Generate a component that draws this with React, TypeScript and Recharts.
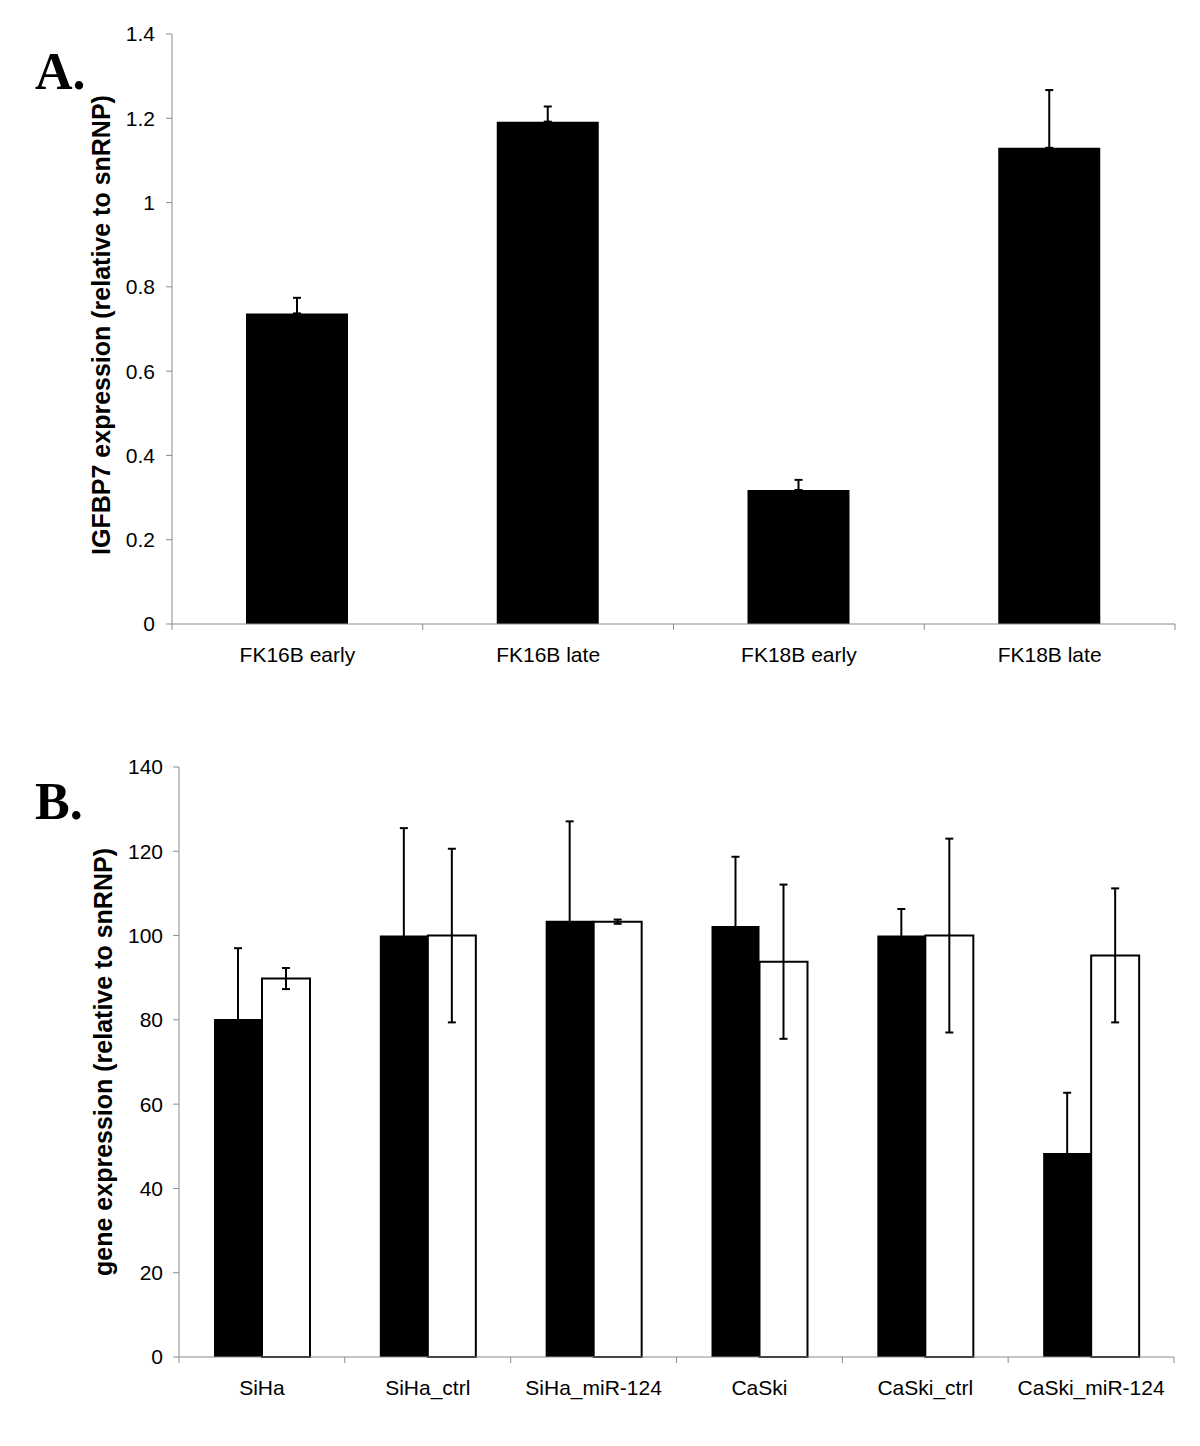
import React from "react";
import { BarChart, Bar, XAxis, YAxis, ErrorBar, Label } from "recharts";

// panel A
const groupsA = ["FK16B early", "FK16B late", "FK18B early", "FK18B late"];
const valuesA = [0.737, 1.192, 0.318, 1.13];
const errorsA = [0.037, 0.036, 0.024, 0.137];
const ticksA = [0, 0.2, 0.4, 0.6, 0.8, 1, 1.2, 1.4];

// panel B
const groupsB = ["SiHa", "SiHa_ctrl", "SiHa_miR-124", "CaSki", "CaSki_ctrl", "CaSki_miR-124"];
const blackB = [80.2, 100, 103.5, 102.3, 100, 48.4];
const blackErrB = [16.8, 25.5, 23.6, 16.4, 6.3, 14.3];
const whiteB = [89.8, 100, 103.3, 93.8, 100, 95.3];
const whiteErrB = [2.5, 20.6, 0.5, 18.3, 23, 15.9];
const ticksB = [0, 20, 40, 60, 80, 100, 120, 140];

const dataA = groupsA.map((name, i) => ({
  name,
  value: valuesA[i],
  err: [0, errorsA[i]],
}));

const dataB = groupsB.map((name, i) => ({
  name,
  black: blackB[i],
  blackErr: blackErrB[i],
  white: whiteB[i],
  whiteErr: whiteErrB[i],
}));

const AXIS = "#8c8c8c";
const TICK_SIZE = 6;
const TICK_MARGIN = 17;
const tickStyle = { fill: "#000", fontSize: 21 };

// category label plus Excel-style tick marks between categories
const CategoryTick = (count: number, plotWidth: number) => (props: any) => {
  const { x, y, payload, index } = props;
  const half = payload?.offset || plotWidth / count / 2;
  const axisY = y - TICK_SIZE - TICK_MARGIN;
  return (
    <g>
      <line x1={x - half} x2={x - half} y1={axisY} y2={axisY + TICK_SIZE} stroke={AXIS} />
      {index === count - 1 && (
        <line x1={x + half} x2={x + half} y1={axisY} y2={axisY + TICK_SIZE} stroke={AXIS} />
      )}
      <text x={x} y={y} dy="0.71em" textAnchor="middle" fill="#000" fontSize={21}>
        {payload.value}
      </text>
    </g>
  );
};

// rotated axis title, x is the baseline
const yLabel = (text: string, x: number, y: number) => () => (
  <text
    x={x}
    y={y}
    transform={`rotate(-90 ${x} ${y})`}
    textAnchor="middle"
    fontSize={25}
    fontWeight="bold"
    fill="#000"
  >
    {text}
  </text>
);

const panelLetter = (top: number): React.CSSProperties => ({
  position: "absolute",
  left: 35,
  top,
  fontFamily: "'Liberation Serif', 'Times New Roman', serif",
  fontWeight: "bold",
  fontSize: 52,
  lineHeight: 1,
  color: "#000",
});

export default function App() {
  return (
    <div
      style={{
        position: "absolute",
        left: 0,
        top: 0,
        width: 1200,
        height: 1446,
        background: "#fff",
        fontFamily: "'Liberation Sans', Arial, sans-serif",
      }}
    >
      <div style={panelLetter(46)}>A.</div>
      <div style={panelLetter(776)}>B.</div>

      <div style={{ position: "absolute", left: 0, top: 0 }}>
        <BarChart
          width={1200}
          height={700}
          data={dataA}
          margin={{ top: 34, right: 25, left: 112, bottom: 26 }}
        >
          <XAxis
            dataKey="name"
            interval={0}
            tickLine={false}
            axisLine={{ stroke: AXIS }}
            tickSize={TICK_SIZE}
            tickMargin={TICK_MARGIN}
            height={50}
            tick={CategoryTick(groupsA.length, 1003)}
          />
          <YAxis
            domain={[0, 1.4]}
            ticks={ticksA}
            width={60}
            tickSize={6}
            tickMargin={11}
            axisLine={{ stroke: AXIS }}
            tickLine={{ stroke: AXIS }}
            tick={tickStyle}
          >
            <Label content={yLabel("IGFBP7 expression (relative to snRNP)", 110, 325)} />
          </YAxis>
          <Bar dataKey="value" fill="#000" barSize={102} isAnimationActive={false}>
            <ErrorBar dataKey="err" width={4} stroke="#000" strokeWidth={2} isAnimationActive={false} />
          </Bar>
        </BarChart>
      </div>

      <div style={{ position: "absolute", left: 0, top: 700 }}>
        <BarChart
          width={1200}
          height={746}
          data={dataB}
          barGap={0}
          margin={{ top: 67, right: 26, left: 119, bottom: 39 }}
        >
          <XAxis
            dataKey="name"
            interval={0}
            tickLine={false}
            axisLine={{ stroke: AXIS }}
            tickSize={TICK_SIZE}
            tickMargin={TICK_MARGIN}
            height={50}
            tick={CategoryTick(groupsB.length, 995)}
          />
          <YAxis
            domain={[0, 140]}
            ticks={ticksB}
            width={60}
            tickSize={6}
            tickMargin={10}
            axisLine={{ stroke: AXIS }}
            tickLine={{ stroke: AXIS }}
            tick={tickStyle}
          >
            <Label content={yLabel("gene expression (relative to snRNP)", 112, 362)} />
          </YAxis>
          <Bar dataKey="black" fill="#000" barSize={48} isAnimationActive={false}>
            <ErrorBar dataKey="blackErr" width={4} stroke="#000" strokeWidth={2} isAnimationActive={false} />
          </Bar>
          <Bar
            dataKey="white"
            fill="#fff"
            stroke="#000"
            strokeWidth={2}
            barSize={48}
            isAnimationActive={false}
          >
            <ErrorBar dataKey="whiteErr" width={4} stroke="#000" strokeWidth={2} isAnimationActive={false} />
          </Bar>
        </BarChart>
      </div>
    </div>
  );
}
